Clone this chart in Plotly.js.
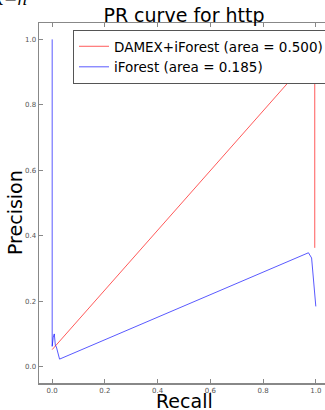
<!DOCTYPE html>
<html>
<head>
<meta charset="utf-8">
<script src="https://cdn.plot.ly/plotly-3.0.1.min.js"></script>
<style>
html,body{margin:0;padding:0;overflow:hidden;background:#fff;width:325px;height:410px;}
#chart{width:336px;height:410px;}
</style>
</head>
<body>
<div id="chart"></div>
<script>
// DAMEX+iForest PR curve
var damexRecall    = [0.0, 0.996, 0.996];
var damexPrecision = [0.052, 0.96, 0.363];
// iForest PR curve
var ifRecall    = [0.0, 0.0, 0.004, 0.008, 0.012, 0.016, 0.028, 0.972, 0.984, 1.0];
var ifPrecision = [1.0, 0.062, 0.09, 0.10, 0.065, 0.06, 0.023, 0.348, 0.332, 0.184];
var tickVals   = [0.0, 0.2, 0.4, 0.6, 0.8, 1.0];
var tickLabels = ['0.0', '0.2', '0.4', '0.6', '0.8', '1.0'];
var seriesNames = ['DAMEX+iForest (area = 0.500)', 'iForest (area = 0.185)'];
var xTitle = 'Recall', yTitle = 'Precision', chartTitle = 'PR curve for http';

var W = 336, H = 410, L = 39, R = 7, T = 23, B = 27;
var PW = W - L - R, PH = H - T - B;
var font = 'DejaVu Sans, sans-serif';

var traces = [
  {x: damexRecall, y: damexPrecision, mode: 'lines', name: seriesNames[0],
   line: {color: 'rgba(255,0,0,0.65)', width: 1}},
  {x: ifRecall, y: ifPrecision, mode: 'lines', name: seriesNames[1],
   line: {color: 'rgba(0,0,255,0.65)', width: 1}}
];

var axisCommon = {
  tickvals: tickVals, ticktext: tickLabels,
  ticks: 'inside', ticklen: 4, tickwidth: 1, tickcolor: '#888',
  showline: true, linecolor: '#888', linewidth: 1.5, mirror: 'ticks',
  showgrid: false, zeroline: false, automargin: false,
  tickfont: {family: font, size: 7, color: '#555'}
};

var layout = {
  width: W, height: H,
  margin: {l: L, r: R, t: T, b: B, pad: 0, autoexpand: false},
  paper_bgcolor: '#fff', plot_bgcolor: '#fff',
  showlegend: true,
  title: {text: chartTitle, font: {family: font, size: 19, color: '#000'},
          x: 0.5, xref: 'paper', xanchor: 'center',
          y: 1 - 15 / H, yref: 'container', yanchor: 'middle'},
  xaxis: Object.assign({}, axisCommon, {range: [-0.05, 1.05]}),
  yaxis: Object.assign({}, axisCommon, {range: [-0.05, 1.05]}),
  legend: {x: (73 - L) / PW, y: 1 - (30 - T) / PH, xanchor: 'left', yanchor: 'top',
           bgcolor: '#fff', bordercolor: '#555', borderwidth: 1,
           font: {family: font, size: 13.5, color: '#000'}, tracegroupgap: 0},
  annotations: [
    {text: '<i>k</i>\u2212<i>n</i>', xref: 'paper', yref: 'paper',
     x: (10 - L) / PW, y: 1 + (T + 1) / PH,
     xanchor: 'center', yanchor: 'middle', showarrow: false,
     font: {family: 'DejaVu Serif, serif', size: 16, color: '#000'}},
    {text: xTitle, xref: 'paper', yref: 'paper', borderpad: 0,
     x: 0.5, y: -(401 - (T + PH)) / PH, xanchor: 'center', yanchor: 'middle', showarrow: false,
     font: {family: font, size: 19, color: '#000'}},
    {text: yTitle, xref: 'paper', yref: 'paper', textangle: -90,
     x: (15 - L) / PW, y: 1 - (213 - T) / PH, xanchor: 'center', yanchor: 'middle', showarrow: false,
     font: {family: font, size: 19, color: '#000'}}
  ]
};

Plotly.newPlot('chart', traces, layout, {displayModeBar: false, staticPlot: true});
</script>
</body>
</html>
